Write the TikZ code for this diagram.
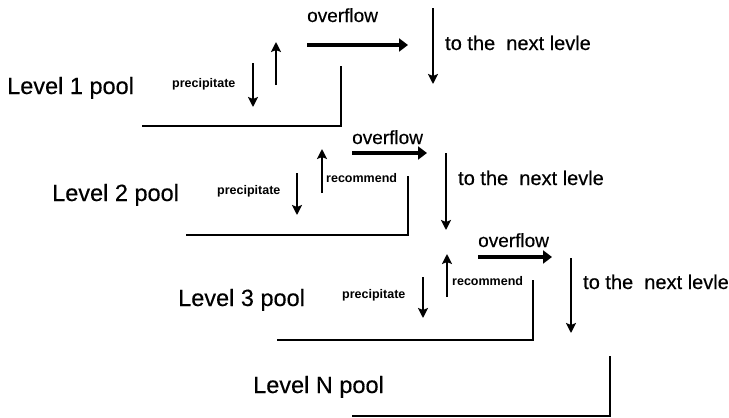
\documentclass[tikz,border=0pt]{standalone}
\usepackage{fontspec}
\setmainfont{Liberation Sans}
\newfontfamily\medfont[FakeBold=0.4]{Liberation Sans}
\usetikzlibrary{arrows.meta}
\begin{document}
\begin{tikzpicture}[x=1pt,y=-1pt,
  txt/.style={inner sep=0pt, anchor=base west},
  levelname/.style={txt, font=\medfont\fontsize{23.5}{28}\selectfont},
  nexttxt/.style={txt, font=\medfont\fontsize{20}{24}\selectfont},
  ovftxt/.style={txt, font=\medfont\fontsize{19}{23}\selectfont},
  smalltxt/.style={txt, font=\bfseries\fontsize{12.5}{15}\selectfont},
  poolline/.style={line width=2.6pt},
  thinarrow/.style={line width=2.4pt, -{Stealth[length=10pt,width=10pt,inset=2pt]}},
  thickarrow/.style={line width=4.8pt, -{Triangle[length=9pt,width=13pt]}}]
\useasboundingbox (0,0) rectangle (729,418);

% ---------- Level 1 ----------
\node[levelname] (l1) at (7,94) {Level 1 pool};
\node[smalltxt] (p1) at (172,87) {precipitate};
\node[ovftxt] (o1) at (307,22) {overflow};
\node[nexttxt] (n1) at (445,50) {to the\ \ next levle};
\coordinate (t1a) at (307,45); \coordinate (t1b) at (408,45);
\coordinate (d1a) at (433,8);  \coordinate (d1b) at (433,84);
\coordinate (u1a) at (276,85); \coordinate (u1b) at (276,42);
\coordinate (q1a) at (253,63); \coordinate (q1b) at (253,107);
\coordinate (w1a) at (142,126); \coordinate (w1b) at (341,126); \coordinate (w1c) at (341,66);
\draw[thickarrow] (t1a) -- (t1b);
\draw[thinarrow] (d1a) -- (d1b);
\draw[thinarrow] (u1a) -- (u1b);
\draw[thinarrow] (q1a) -- (q1b);
\draw[poolline] (w1a) -- (w1b) -- (w1c);

% ---------- Level 2 ----------
\node[levelname] (l2) at (52,201) {Level 2 pool};
\node[smalltxt] (p2) at (217,194) {precipitate};
\node[smalltxt] (r2) at (326,182) {recommend};
\node[ovftxt] (o2) at (352,144) {overflow};
\node[nexttxt] (n2) at (458,185) {to the\ \ next levle};
\coordinate (t2a) at (352,153); \coordinate (t2b) at (427,153);
\coordinate (d2a) at (446,153); \coordinate (d2b) at (446,230);
\coordinate (u2a) at (322,193); \coordinate (u2b) at (322,149);
\coordinate (q2a) at (297,173); \coordinate (q2b) at (297,215);
\coordinate (w2a) at (186,235); \coordinate (w2b) at (408,235); \coordinate (w2c) at (408,176);
\draw[thickarrow] (t2a) -- (t2b);
\draw[thinarrow] (d2a) -- (d2b);
\draw[thinarrow] (u2a) -- (u2b);
\draw[thinarrow] (q2a) -- (q2b);
\draw[poolline] (w2a) -- (w2b) -- (w2c);

% ---------- Level 3 ----------
\node[levelname] (l3) at (178,306) {Level 3 pool};
\node[smalltxt] (p3) at (342,298) {precipitate};
\node[smalltxt] (r3) at (452,285) {recommend};
\node[ovftxt] (o3) at (478,247) {overflow};
\node[nexttxt] (n3) at (583,289) {to the\ \ next levle};
\coordinate (t3a) at (478,257); \coordinate (t3b) at (552,257);
\coordinate (d3a) at (571,258); \coordinate (d3b) at (571,333);
\coordinate (u3a) at (447,297); \coordinate (u3b) at (447,254);
\coordinate (q3a) at (423,277); \coordinate (q3b) at (423,318);
\coordinate (w3a) at (277,340); \coordinate (w3b) at (533,340); \coordinate (w3c) at (533,280);
\draw[thickarrow] (t3a) -- (t3b);
\draw[thinarrow] (d3a) -- (d3b);
\draw[thinarrow] (u3a) -- (u3b);
\draw[thinarrow] (q3a) -- (q3b);
\draw[poolline] (w3a) -- (w3b) -- (w3c);

% ---------- Level N ----------
\node[levelname] (ln) at (253,393) {Level N pool};
\coordinate (wna) at (352,416); \coordinate (wnb) at (610,416); \coordinate (wnc) at (610,356);
\draw[poolline] (wna) -- (wnb) -- (wnc);
\end{tikzpicture}
\end{document}
